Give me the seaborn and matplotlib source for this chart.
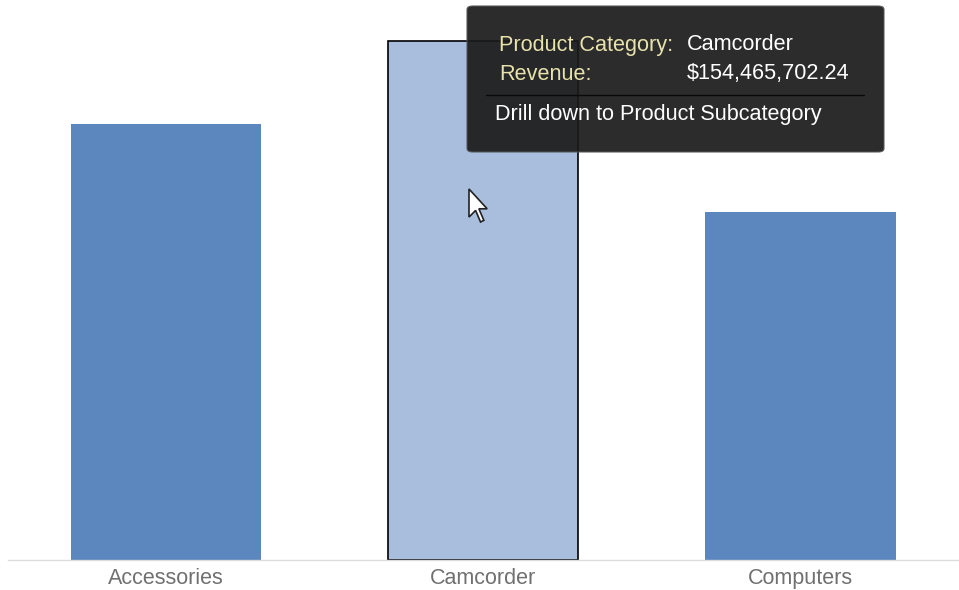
import numpy as np
import pandas as pd
import matplotlib.pyplot as plt
import seaborn as sns
from matplotlib.patches import FancyBboxPatch, Polygon
from matplotlib.lines import Line2D

categories = ['Accessories', 'Camcorder', 'Computers']
revenue = [129.8e6, 154465702.24, 103.6e6]
highlight = 'Camcorder'

sns.set_style("white")
plt.rcParams['font.family'] = ['Liberation Sans', 'DejaVu Sans']

W, H = 959, 590
fig = plt.figure(figsize=(W / 100, H / 100), dpi=100)
ax = fig.add_axes([7.5 / W, 30 / H, 1 - 7.5 / W, 1 - 30 / H])

df = pd.DataFrame({'category': categories, 'revenue': revenue})
colors = ['#a9bedd' if c == highlight else '#5b86be' for c in categories]
sns.barplot(data=df, x='category', y='revenue', hue='category', palette=colors,
            width=0.6, legend=False, ax=ax, saturation=1)
for bar, c in zip(ax.patches, categories):
    if c == highlight:
        bar.set_edgecolor('black')
        bar.set_linewidth(1.2)
    else:
        bar.set_linewidth(0)

ax.set_xlim(-0.5, 2.5)
ax.set_ylim(0, max(revenue) * 560 / 519)
ax.set_xlabel('')
ax.set_ylabel('')
ax.set_yticks([])
for s in ['top', 'left', 'right']:
    ax.spines[s].set_visible(False)
ax.spines['bottom'].set_color('#dcdcdc')
ax.spines['bottom'].set_linewidth(1)
ax.tick_params(axis='x', length=0, pad=5.5, labelsize=15.5, labelcolor='#707070')


def px(x, y):
    return x / W, 1 - y / H


# tooltip
x0, y0 = px(467, 152)
x1, y1 = px(884, 6)
tip = FancyBboxPatch((x0, y0), x1 - x0, y1 - y0, boxstyle='round,pad=0,rounding_size=0.006',
                     transform=fig.transFigure, facecolor='#1a1a1a', alpha=0.92,
                     edgecolor='#555555', linewidth=0.8, zorder=10)
fig.add_artist(tip)

fs = 15.6
val = [v for c, v in zip(categories, revenue) if c == highlight][0]
rows = [('Product Category:', highlight, 45), ('Revenue:', f'${val:,.2f}', 74)]
for lab, txt, yy in rows:
    fig.text(*px(499, yy), lab, color='#e8e2ac', fontsize=fs, va='center', ha='left', zorder=11)
    fig.text(*px(687, yy), txt, color='white', fontsize=fs, va='center', ha='left', zorder=11)
sx0, sy = px(486, 95)
sx1, _ = px(864, 95)
fig.add_artist(Line2D([sx0, sx1], [sy, sy], transform=fig.transFigure, color='#0a0a0a',
                      linewidth=1, zorder=11))
fig.text(*px(495, 114), 'Drill down to Product Subcategory', color='white', fontsize=fs,
         va='center', ha='left', zorder=11)

# mouse cursor
shape = np.array([(0, 0), (0, 17), (4, 13), (7, 20), (9, 19), (6, 12), (11, 12)]) * 1.65
cursor = [px(469 + a, 189 + b) for a, b in shape]
fig.add_artist(Polygon(cursor, closed=True, transform=fig.transFigure, facecolor='white',
                       edgecolor='#222222', linewidth=1.2, zorder=9))

fig.savefig('out.png', dpi=100)
